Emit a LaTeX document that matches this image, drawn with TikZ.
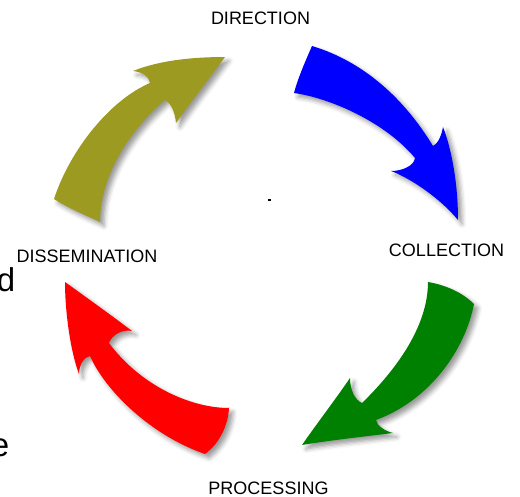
\documentclass[tikz,border=0pt]{standalone}
\usepackage{fontspec}
\setmainfont{Liberation Sans}
\usetikzlibrary{shadows.blur}
\definecolor{arrowblue}{RGB}{0,0,255}
\definecolor{arrowgreen}{RGB}{0,128,0}
\definecolor{arrowred}{RGB}{255,0,0}
\definecolor{arrowolive}{RGB}{157,154,33}
\begin{document}
\begin{tikzpicture}[x=1pt,y=-1pt,
  lbl/.style={font=\fontsize{18}{21}\selectfont, inner sep=0pt, text=black},
  frag/.style={font=\fontsize{33}{36}\selectfont, inner sep=0pt, anchor=base east, text=black},
  bigarrow/.style={blur shadow={shadow xshift=4pt,shadow yshift=-4pt,shadow blur radius=4.5pt,shadow opacity=40}},
]
\useasboundingbox (0,0) rectangle (520,497);
\clip (0,0) rectangle (520,497);

% blue arrow: DIRECTION -> COLLECTION
\fill[arrowblue, bigarrow] (312,46) .. controls (305,62) and (298,78) .. (294,93)
  .. controls (330,98) and (385,122) .. (415,158)
  .. controls (414,166) and (402,171) .. (391,171)
  .. controls (410,178) and (440,198) .. (458,220)
  .. controls (458,185) and (452,150) .. (443,127)
  .. controls (441,138) and (437,144) .. (433,146)
  .. controls (405,100) and (365,62) .. (312,46) -- cycle;

% green arrow: COLLECTION -> PROCESSING
\fill[arrowgreen, bigarrow] (428,282) .. controls (445,285) and (462,292) .. (474,304)
  .. controls (465,350) and (430,400) .. (376,420)
  .. controls (377,426) and (385,431) .. (393,433)
  .. controls (360,437) and (325,441) .. (302,445)
  .. controls (318,422) and (335,400) .. (350,378)
  .. controls (350,390) and (355,400) .. (362,403)
  .. controls (398,368) and (428,325) .. (428,282) -- cycle;

% red arrow: PROCESSING -> DISSEMINATION
\fill[arrowred, bigarrow] (65,282) .. controls (90,300) and (115,318) .. (132,331)
  .. controls (122,329) and (112,335) .. (109,343)
  .. controls (140,385) and (190,408) .. (229,408)
  .. controls (228,425) and (220,443) .. (205,454)
  .. controls (150,435) and (105,390) .. (90,356)
  .. controls (84,357) and (79,365) .. (79,374)
  .. controls (70,350) and (65,310) .. (65,282) -- cycle;

% olive arrow: DISSEMINATION -> DIRECTION
\fill[arrowolive, bigarrow] (225,57) .. controls (208,80) and (190,103) .. (176,123)
  .. controls (175,112) and (171,103) .. (165,100)
  .. controls (130,130) and (100,175) .. (100,222)
  .. controls (85,215) and (68,208) .. (54,199)
  .. controls (70,150) and (110,100) .. (150,83)
  .. controls (149,76) and (142,72) .. (133,71)
  .. controls (160,60) and (195,57) .. (225,57) -- cycle;

% labels
\node[lbl] (direction) at (260.5,18.5) {DIRECTION};
\node[lbl] (collection) at (446.5,250) {COLLECTION};
\node[lbl] (dissemination) at (87,256.5) {DISSEMINATION};
\node[lbl] (processing) at (268.5,488.5) {PROCESSING};

% stray fragments
\node[frag] (dfrag) at (15.5,292) {d};
\node[frag] (efrag) at (9.5,456) {e};
\fill (268,199) rectangle (271,201.5);
\end{tikzpicture}
\end{document}
